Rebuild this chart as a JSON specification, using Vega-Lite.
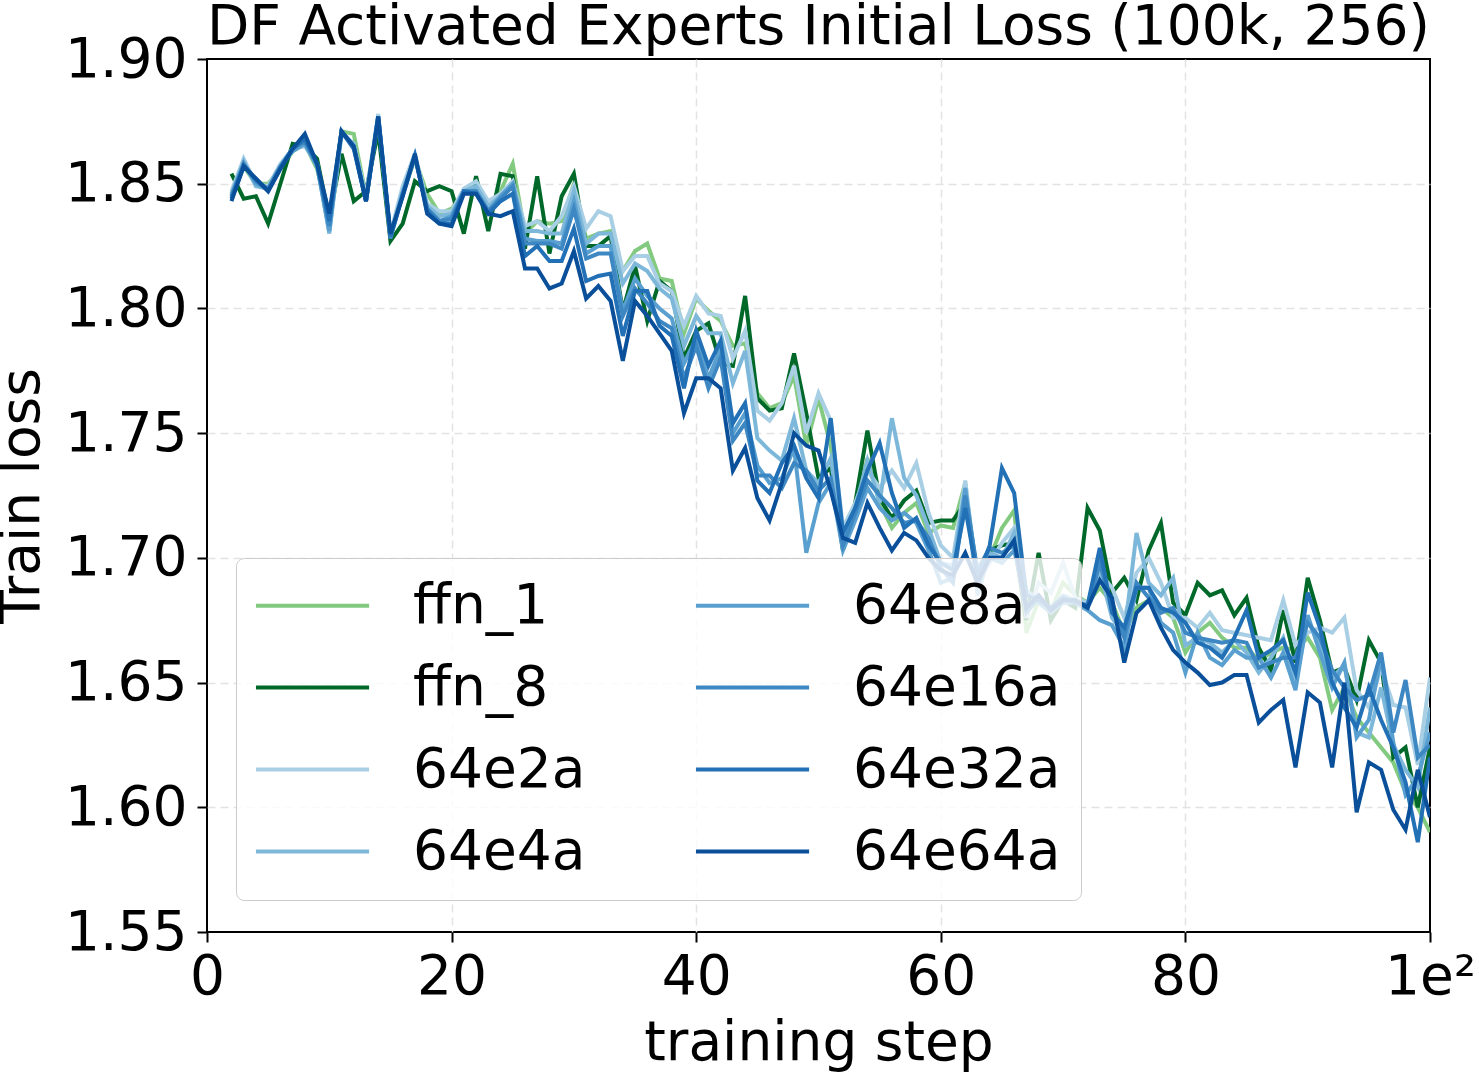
{
  "$schema": "https://vega.github.io/schema/vega-lite/v6.json",
  "width": 1223,
  "height": 873,
  "autosize": {"type": "none"},
  "padding": {"left": 207, "top": 59, "right": 49, "bottom": 140},
  "background": "white",
  "title": {"text": "DF Activated Experts Initial Loss (100k, 256)", "fontSize": 55, "font": "DejaVu Sans", "fontWeight": "normal", "color": "black", "anchor": "middle", "baseline": "alphabetic", "offset": 0, "dy": 67},
  "config": {
    "view": {"stroke": "black", "strokeWidth": 2},
    "axis": {"domain": false, "tickSize": 10, "tickWidth": 2, "tickColor": "black", "labelFontSize": 55, "labelFont": "DejaVu Sans", "labelColor": "black", "titleFontSize": 55, "titleFont": "DejaVu Sans", "titleFontWeight": "normal", "titleColor": "black", "grid": true, "gridDash": [8, 5], "gridColor": "#e3e3e3", "gridWidth": 1.5}
  },
  "data": {"values": [
{"s":2,"ffn_1":1.846,"ffn_8":1.854,"64e2a":1.847,"64e4a":1.846,"64e8a":1.845,"64e16a":1.845,"64e32a":1.844,"64e64a":1.843},
{"s":3,"ffn_1":1.857,"ffn_8":1.844,"64e2a":1.860,"64e4a":1.859,"64e8a":1.858,"64e16a":1.858,"64e32a":1.857,"64e64a":1.857},
{"s":4,"ffn_1":1.850,"ffn_8":1.845,"64e2a":1.850,"64e4a":1.849,"64e8a":1.850,"64e16a":1.851,"64e32a":1.852,"64e64a":1.852},
{"s":5,"ffn_1":1.850,"ffn_8":1.834,"64e2a":1.849,"64e4a":1.848,"64e8a":1.848,"64e16a":1.848,"64e32a":1.847,"64e64a":1.847},
{"s":6,"ffn_1":1.856,"ffn_8":1.850,"64e2a":1.858,"64e4a":1.857,"64e8a":1.857,"64e16a":1.857,"64e32a":1.856,"64e64a":1.856},
{"s":7,"ffn_1":1.863,"ffn_8":1.866,"64e2a":1.864,"64e4a":1.864,"64e8a":1.863,"64e16a":1.864,"64e32a":1.864,"64e64a":1.864},
{"s":8,"ffn_1":1.866,"ffn_8":1.865,"64e2a":1.865,"64e4a":1.866,"64e8a":1.866,"64e16a":1.867,"64e32a":1.868,"64e64a":1.870},
{"s":9,"ffn_1":1.856,"ffn_8":1.860,"64e2a":1.858,"64e4a":1.858,"64e8a":1.857,"64e16a":1.858,"64e32a":1.858,"64e64a":1.858},
{"s":10,"ffn_1":1.836,"ffn_8":1.836,"64e2a":1.831,"64e4a":1.830,"64e8a":1.831,"64e16a":1.833,"64e32a":1.835,"64e64a":1.838},
{"s":11,"ffn_1":1.871,"ffn_8":1.862,"64e2a":1.870,"64e4a":1.870,"64e8a":1.871,"64e16a":1.871,"64e32a":1.871,"64e64a":1.871},
{"s":12,"ffn_1":1.870,"ffn_8":1.843,"64e2a":1.866,"64e4a":1.866,"64e8a":1.865,"64e16a":1.865,"64e32a":1.864,"64e64a":1.865},
{"s":13,"ffn_1":1.845,"ffn_8":1.847,"64e2a":1.845,"64e4a":1.844,"64e8a":1.843,"64e16a":1.843,"64e32a":1.843,"64e64a":1.843},
{"s":14,"ffn_1":1.876,"ffn_8":1.871,"64e2a":1.878,"64e4a":1.877,"64e8a":1.877,"64e16a":1.877,"64e32a":1.876,"64e64a":1.877},
{"s":15,"ffn_1":1.829,"ffn_8":1.827,"64e2a":1.830,"64e4a":1.829,"64e8a":1.829,"64e16a":1.828,"64e32a":1.829,"64e64a":1.830},
{"s":16,"ffn_1":1.846,"ffn_8":1.834,"64e2a":1.849,"64e4a":1.847,"64e8a":1.846,"64e16a":1.846,"64e32a":1.845,"64e64a":1.845},
{"s":17,"ffn_1":1.860,"ffn_8":1.851,"64e2a":1.862,"64e4a":1.861,"64e8a":1.861,"64e16a":1.861,"64e32a":1.861,"64e64a":1.862},
{"s":18,"ffn_1":1.846,"ffn_8":1.847,"64e2a":1.842,"64e4a":1.841,"64e8a":1.840,"64e16a":1.840,"64e32a":1.839,"64e64a":1.838},
{"s":19,"ffn_1":1.838,"ffn_8":1.849,"64e2a":1.839,"64e4a":1.837,"64e8a":1.835,"64e16a":1.835,"64e32a":1.834,"64e64a":1.834},
{"s":20,"ffn_1":1.840,"ffn_8":1.847,"64e2a":1.839,"64e4a":1.838,"64e8a":1.837,"64e16a":1.836,"64e32a":1.834,"64e64a":1.833},
{"s":21,"ffn_1":1.846,"ffn_8":1.830,"64e2a":1.848,"64e4a":1.847,"64e8a":1.847,"64e16a":1.847,"64e32a":1.847,"64e64a":1.846},
{"s":22,"ffn_1":1.849,"ffn_8":1.853,"64e2a":1.851,"64e4a":1.849,"64e8a":1.847,"64e16a":1.847,"64e32a":1.846,"64e64a":1.846},
{"s":23,"ffn_1":1.840,"ffn_8":1.831,"64e2a":1.843,"64e4a":1.841,"64e8a":1.839,"64e16a":1.839,"64e32a":1.838,"64e64a":1.838},
{"s":24,"ffn_1":1.847,"ffn_8":1.854,"64e2a":1.846,"64e4a":1.845,"64e8a":1.845,"64e16a":1.844,"64e32a":1.843,"64e64a":1.837},
{"s":25,"ffn_1":1.858,"ffn_8":1.853,"64e2a":1.851,"64e4a":1.850,"64e8a":1.850,"64e16a":1.849,"64e32a":1.846,"64e64a":1.839},
{"s":26,"ffn_1":1.830,"ffn_8":1.824,"64e2a":1.833,"64e4a":1.831,"64e8a":1.828,"64e16a":1.826,"64e32a":1.821,"64e64a":1.816},
{"s":27,"ffn_1":1.835,"ffn_8":1.853,"64e2a":1.835,"64e4a":1.831,"64e8a":1.827,"64e16a":1.826,"64e32a":1.825,"64e64a":1.816},
{"s":28,"ffn_1":1.834,"ffn_8":1.822,"64e2a":1.831,"64e4a":1.830,"64e8a":1.827,"64e16a":1.826,"64e32a":1.819,"64e64a":1.808},
{"s":29,"ffn_1":1.835,"ffn_8":1.845,"64e2a":1.837,"64e4a":1.830,"64e8a":1.826,"64e16a":1.824,"64e32a":1.819,"64e64a":1.810},
{"s":30,"ffn_1":1.850,"ffn_8":1.854,"64e2a":1.849,"64e4a":1.847,"64e8a":1.843,"64e16a":1.840,"64e32a":1.832,"64e64a":1.823},
{"s":31,"ffn_1":1.828,"ffn_8":1.825,"64e2a":1.832,"64e4a":1.826,"64e8a":1.822,"64e16a":1.820,"64e32a":1.811,"64e64a":1.804},
{"s":32,"ffn_1":1.830,"ffn_8":1.825,"64e2a":1.839,"64e4a":1.830,"64e8a":1.825,"64e16a":1.822,"64e32a":1.813,"64e64a":1.809},
{"s":33,"ffn_1":1.831,"ffn_8":1.829,"64e2a":1.837,"64e4a":1.830,"64e8a":1.825,"64e16a":1.822,"64e32a":1.814,"64e64a":1.803},
{"s":34,"ffn_1":1.815,"ffn_8":1.799,"64e2a":1.815,"64e4a":1.810,"64e8a":1.799,"64e16a":1.797,"64e32a":1.789,"64e64a":1.779},
{"s":35,"ffn_1":1.823,"ffn_8":1.817,"64e2a":1.821,"64e4a":1.818,"64e8a":1.812,"64e16a":1.808,"64e32a":1.807,"64e64a":1.803},
{"s":36,"ffn_1":1.826,"ffn_8":1.795,"64e2a":1.821,"64e4a":1.815,"64e8a":1.805,"64e16a":1.802,"64e32a":1.807,"64e64a":1.797},
{"s":37,"ffn_1":1.812,"ffn_8":1.811,"64e2a":1.810,"64e4a":1.808,"64e8a":1.800,"64e16a":1.795,"64e32a":1.793,"64e64a":1.790},
{"s":38,"ffn_1":1.811,"ffn_8":1.807,"64e2a":1.807,"64e4a":1.804,"64e8a":1.796,"64e16a":1.792,"64e32a":1.789,"64e64a":1.783},
{"s":39,"ffn_1":1.790,"ffn_8":1.780,"64e2a":1.793,"64e4a":1.785,"64e8a":1.778,"64e16a":1.772,"64e32a":1.768,"64e64a":1.758},
{"s":40,"ffn_1":1.804,"ffn_8":1.791,"64e2a":1.805,"64e4a":1.797,"64e8a":1.788,"64e16a":1.785,"64e32a":1.791,"64e64a":1.772},
{"s":41,"ffn_1":1.799,"ffn_8":1.794,"64e2a":1.798,"64e4a":1.790,"64e8a":1.772,"64e16a":1.768,"64e32a":1.777,"64e64a":1.772},
{"s":42,"ffn_1":1.795,"ffn_8":1.778,"64e2a":1.797,"64e4a":1.790,"64e8a":1.784,"64e16a":1.780,"64e32a":1.787,"64e64a":1.768},
{"s":43,"ffn_1":1.785,"ffn_8":1.777,"64e2a":1.780,"64e4a":1.770,"64e8a":1.750,"64e16a":1.747,"64e32a":1.754,"64e64a":1.735},
{"s":44,"ffn_1":1.786,"ffn_8":1.805,"64e2a":1.791,"64e4a":1.783,"64e8a":1.758,"64e16a":1.754,"64e32a":1.762,"64e64a":1.744},
{"s":45,"ffn_1":1.766,"ffn_8":1.764,"64e2a":1.759,"64e4a":1.748,"64e8a":1.737,"64e16a":1.733,"64e32a":1.731,"64e64a":1.724},
{"s":46,"ffn_1":1.760,"ffn_8":1.759,"64e2a":1.755,"64e4a":1.743,"64e8a":1.730,"64e16a":1.733,"64e32a":1.726,"64e64a":1.715},
{"s":47,"ffn_1":1.762,"ffn_8":1.760,"64e2a":1.762,"64e4a":1.739,"64e8a":1.732,"64e16a":1.728,"64e32a":1.738,"64e64a":1.730},
{"s":48,"ffn_1":1.773,"ffn_8":1.782,"64e2a":1.777,"64e4a":1.756,"64e8a":1.744,"64e16a":1.738,"64e32a":1.745,"64e64a":1.750},
{"s":49,"ffn_1":1.745,"ffn_8":1.758,"64e2a":1.750,"64e4a":1.735,"64e8a":1.702,"64e16a":1.735,"64e32a":1.732,"64e64a":1.745},
{"s":50,"ffn_1":1.764,"ffn_8":1.732,"64e2a":1.766,"64e4a":1.730,"64e8a":1.722,"64e16a":1.727,"64e32a":1.724,"64e64a":1.743},
{"s":51,"ffn_1":1.745,"ffn_8":1.736,"64e2a":1.755,"64e4a":1.740,"64e8a":1.730,"64e16a":1.732,"64e32a":1.756,"64e64a":1.727},
{"s":52,"ffn_1":1.705,"ffn_8":1.703,"64e2a":1.712,"64e4a":1.706,"64e8a":1.703,"64e16a":1.705,"64e32a":1.710,"64e64a":1.708},
{"s":53,"ffn_1":1.718,"ffn_8":1.722,"64e2a":1.722,"64e4a":1.720,"64e8a":1.715,"64e16a":1.718,"64e32a":1.720,"64e64a":1.706},
{"s":54,"ffn_1":1.740,"ffn_8":1.751,"64e2a":1.735,"64e4a":1.739,"64e8a":1.728,"64e16a":1.731,"64e32a":1.735,"64e64a":1.722},
{"s":55,"ffn_1":1.722,"ffn_8":1.724,"64e2a":1.728,"64e4a":1.722,"64e8a":1.720,"64e16a":1.725,"64e32a":1.746,"64e64a":1.712},
{"s":56,"ffn_1":1.712,"ffn_8":1.716,"64e2a":1.735,"64e4a":1.756,"64e8a":1.715,"64e16a":1.720,"64e32a":1.726,"64e64a":1.703},
{"s":57,"ffn_1":1.718,"ffn_8":1.723,"64e2a":1.728,"64e4a":1.732,"64e8a":1.718,"64e16a":1.714,"64e32a":1.712,"64e64a":1.710},
{"s":58,"ffn_1":1.722,"ffn_8":1.727,"64e2a":1.738,"64e4a":1.725,"64e8a":1.714,"64e16a":1.715,"64e32a":1.716,"64e64a":1.707},
{"s":59,"ffn_1":1.710,"ffn_8":1.714,"64e2a":1.718,"64e4a":1.712,"64e8a":1.703,"64e16a":1.708,"64e32a":1.705,"64e64a":1.700},
{"s":60,"ffn_1":1.713,"ffn_8":1.715,"64e2a":1.705,"64e4a":1.698,"64e8a":1.690,"64e16a":1.696,"64e32a":1.698,"64e64a":1.695},
{"s":61,"ffn_1":1.712,"ffn_8":1.715,"64e2a":1.700,"64e4a":1.697,"64e8a":1.692,"64e16a":1.690,"64e32a":1.695,"64e64a":1.693},
{"s":62,"ffn_1":1.730,"ffn_8":1.722,"64e2a":1.731,"64e4a":1.728,"64e8a":1.728,"64e16a":1.725,"64e32a":1.720,"64e64a":1.702},
{"s":63,"ffn_1":1.688,"ffn_8":1.693,"64e2a":1.690,"64e4a":1.685,"64e8a":1.693,"64e16a":1.695,"64e32a":1.692,"64e64a":1.690},
{"s":64,"ffn_1":1.700,"ffn_8":1.703,"64e2a":1.698,"64e4a":1.702,"64e8a":1.700,"64e16a":1.704,"64e32a":1.705,"64e64a":1.700},
{"s":65,"ffn_1":1.712,"ffn_8":1.705,"64e2a":1.706,"64e4a":1.700,"64e8a":1.698,"64e16a":1.702,"64e32a":1.736,"64e64a":1.700},
{"s":66,"ffn_1":1.719,"ffn_8":1.706,"64e2a":1.712,"64e4a":1.710,"64e8a":1.703,"64e16a":1.705,"64e32a":1.726,"64e64a":1.707},
{"s":67,"ffn_1":1.670,"ffn_8":1.675,"64e2a":1.676,"64e4a":1.687,"64e8a":1.682,"64e16a":1.678,"64e32a":1.685,"64e64a":1.680},
{"s":68,"ffn_1":1.683,"ffn_8":1.702,"64e2a":1.690,"64e4a":1.683,"64e8a":1.682,"64e16a":1.684,"64e32a":1.683,"64e64a":1.685},
{"s":69,"ffn_1":1.679,"ffn_8":1.675,"64e2a":1.686,"64e4a":1.680,"64e8a":1.678,"64e16a":1.679,"64e32a":1.680,"64e64a":1.679},
{"s":70,"ffn_1":1.690,"ffn_8":1.683,"64e2a":1.698,"64e4a":1.685,"64e8a":1.682,"64e16a":1.683,"64e32a":1.684,"64e64a":1.683},
{"s":71,"ffn_1":1.685,"ffn_8":1.680,"64e2a":1.684,"64e4a":1.683,"64e8a":1.682,"64e16a":1.683,"64e32a":1.682,"64e64a":1.683},
{"s":72,"ffn_1":1.682,"ffn_8":1.720,"64e2a":1.682,"64e4a":1.680,"64e8a":1.679,"64e16a":1.680,"64e32a":1.681,"64e64a":1.680},
{"s":73,"ffn_1":1.688,"ffn_8":1.711,"64e2a":1.694,"64e4a":1.695,"64e8a":1.675,"64e16a":1.698,"64e32a":1.704,"64e64a":1.691},
{"s":74,"ffn_1":1.682,"ffn_8":1.686,"64e2a":1.688,"64e4a":1.676,"64e8a":1.673,"64e16a":1.680,"64e32a":1.678,"64e64a":1.684},
{"s":75,"ffn_1":1.670,"ffn_8":1.692,"64e2a":1.676,"64e4a":1.669,"64e8a":1.664,"64e16a":1.668,"64e32a":1.672,"64e64a":1.658},
{"s":76,"ffn_1":1.680,"ffn_8":1.683,"64e2a":1.694,"64e4a":1.710,"64e8a":1.688,"64e16a":1.690,"64e32a":1.688,"64e64a":1.678},
{"s":77,"ffn_1":1.683,"ffn_8":1.703,"64e2a":1.700,"64e4a":1.690,"64e8a":1.688,"64e16a":1.684,"64e32a":1.688,"64e64a":1.683},
{"s":78,"ffn_1":1.680,"ffn_8":1.714,"64e2a":1.690,"64e4a":1.685,"64e8a":1.674,"64e16a":1.678,"64e32a":1.680,"64e64a":1.672},
{"s":79,"ffn_1":1.676,"ffn_8":1.682,"64e2a":1.676,"64e4a":1.692,"64e8a":1.670,"64e16a":1.680,"64e32a":1.678,"64e64a":1.663},
{"s":80,"ffn_1":1.662,"ffn_8":1.677,"64e2a":1.676,"64e4a":1.665,"64e8a":1.654,"64e16a":1.670,"64e32a":1.674,"64e64a":1.658},
{"s":81,"ffn_1":1.670,"ffn_8":1.690,"64e2a":1.672,"64e4a":1.668,"64e8a":1.670,"64e16a":1.668,"64e32a":1.666,"64e64a":1.654},
{"s":82,"ffn_1":1.674,"ffn_8":1.685,"64e2a":1.678,"64e4a":1.666,"64e8a":1.660,"64e16a":1.667,"64e32a":1.664,"64e64a":1.649},
{"s":83,"ffn_1":1.668,"ffn_8":1.687,"64e2a":1.671,"64e4a":1.662,"64e8a":1.657,"64e16a":1.666,"64e32a":1.660,"64e64a":1.650},
{"s":84,"ffn_1":1.664,"ffn_8":1.677,"64e2a":1.670,"64e4a":1.667,"64e8a":1.663,"64e16a":1.667,"64e32a":1.668,"64e64a":1.653},
{"s":85,"ffn_1":1.664,"ffn_8":1.684,"64e2a":1.669,"64e4a":1.662,"64e8a":1.660,"64e16a":1.666,"64e32a":1.679,"64e64a":1.653},
{"s":86,"ffn_1":1.659,"ffn_8":1.664,"64e2a":1.668,"64e4a":1.654,"64e8a":1.660,"64e16a":1.656,"64e32a":1.660,"64e64a":1.634},
{"s":87,"ffn_1":1.662,"ffn_8":1.655,"64e2a":1.667,"64e4a":1.660,"64e8a":1.652,"64e16a":1.658,"64e32a":1.663,"64e64a":1.639},
{"s":88,"ffn_1":1.664,"ffn_8":1.679,"64e2a":1.683,"64e4a":1.668,"64e8a":1.662,"64e16a":1.660,"64e32a":1.667,"64e64a":1.643},
{"s":89,"ffn_1":1.663,"ffn_8":1.658,"64e2a":1.665,"64e4a":1.650,"64e8a":1.647,"64e16a":1.660,"64e32a":1.654,"64e64a":1.616},
{"s":90,"ffn_1":1.668,"ffn_8":1.692,"64e2a":1.670,"64e4a":1.675,"64e8a":1.677,"64e16a":1.674,"64e32a":1.686,"64e64a":1.646},
{"s":91,"ffn_1":1.660,"ffn_8":1.675,"64e2a":1.672,"64e4a":1.665,"64e8a":1.662,"64e16a":1.668,"64e32a":1.672,"64e64a":1.642},
{"s":92,"ffn_1":1.639,"ffn_8":1.654,"64e2a":1.670,"64e4a":1.652,"64e8a":1.648,"64e16a":1.655,"64e32a":1.650,"64e64a":1.616},
{"s":93,"ffn_1":1.648,"ffn_8":1.656,"64e2a":1.676,"64e4a":1.657,"64e8a":1.658,"64e16a":1.648,"64e32a":1.640,"64e64a":1.650},
{"s":94,"ffn_1":1.636,"ffn_8":1.643,"64e2a":1.647,"64e4a":1.630,"64e8a":1.628,"64e16a":1.643,"64e32a":1.632,"64e64a":1.598},
{"s":95,"ffn_1":1.630,"ffn_8":1.667,"64e2a":1.640,"64e4a":1.628,"64e8a":1.635,"64e16a":1.645,"64e32a":1.648,"64e64a":1.618},
{"s":96,"ffn_1":1.624,"ffn_8":1.658,"64e2a":1.656,"64e4a":1.648,"64e8a":1.660,"64e16a":1.662,"64e32a":1.635,"64e64a":1.615},
{"s":97,"ffn_1":1.618,"ffn_8":1.620,"64e2a":1.641,"64e4a":1.625,"64e8a":1.626,"64e16a":1.630,"64e32a":1.624,"64e64a":1.599},
{"s":98,"ffn_1":1.606,"ffn_8":1.624,"64e2a":1.640,"64e4a":1.615,"64e8a":1.605,"64e16a":1.651,"64e32a":1.610,"64e64a":1.591},
{"s":99,"ffn_1":1.600,"ffn_8":1.600,"64e2a":1.617,"64e4a":1.608,"64e8a":1.612,"64e16a":1.620,"64e32a":1.586,"64e64a":1.615},
{"s":100,"ffn_1":1.590,"ffn_8":1.624,"64e2a":1.652,"64e4a":1.640,"64e8a":1.630,"64e16a":1.625,"64e32a":1.620,"64e64a":1.596}
  ]},
  "transform": [{"fold": ["ffn_1", "ffn_8", "64e2a", "64e4a", "64e8a", "64e16a", "64e32a", "64e64a"], "as": ["series", "loss"]}],
  "mark": {"type": "line", "strokeWidth": 4, "clip": true},
  "encoding": {
    "x": {"field": "s", "type": "quantitative", "title": "training step",
      "scale": {"domain": [0, 100], "nice": false, "zero": false},
      "axis": {"values": [0, 20, 40, 60, 80, 100], "labelExpr": "datum.value == 100 ? '1e\u00b2' : datum.label", "labelPadding": 8, "titlePadding": 12, "labelFlush": false,
        "gridOpacity": {"condition": {"test": "datum.value == 0 || datum.value == 100", "value": 0}, "value": 1}}},
    "y": {"field": "loss", "type": "quantitative", "title": "Train loss",
      "scale": {"domain": [1.55, 1.9], "nice": false, "zero": false},
      "axis": {"values": [1.55, 1.6, 1.65, 1.7, 1.75, 1.8, 1.85, 1.9], "format": ".2f", "labelPadding": 10, "titlePadding": 14,
        "gridOpacity": {"condition": {"test": "datum.value < 1.56 || datum.value > 1.89", "value": 0}, "value": 1}}},
    "color": {"field": "series", "type": "nominal",
      "scale": {"domain": ["ffn_1", "ffn_8", "64e2a", "64e4a", "64e8a", "64e16a", "64e32a", "64e64a"],
                "range": ["#82ca7f", "#00692a", "#a9cfe5", "#7db8da", "#59a0d0", "#3d87c3", "#2270b5", "#0a4f9a"]},
      "legend": {"title": null, "orient": "none", "legendX": 29, "legendY": 499, "columns": 2, "symbolType": "M-1.95,0H6.06", "symbolSize": 798, "symbolStrokeWidth": 4, "labelFontSize": 55, "labelFont": "DejaVu Sans", "labelColor": "black", "labelOffset": 102, "columnPadding": 101, "rowPadding": 26, "padding": 20, "strokeColor": "#cccccc", "cornerRadius": 8, "fillColor": "rgba(255,255,255,0.8)", "labelLimit": 400}}
  }
}
